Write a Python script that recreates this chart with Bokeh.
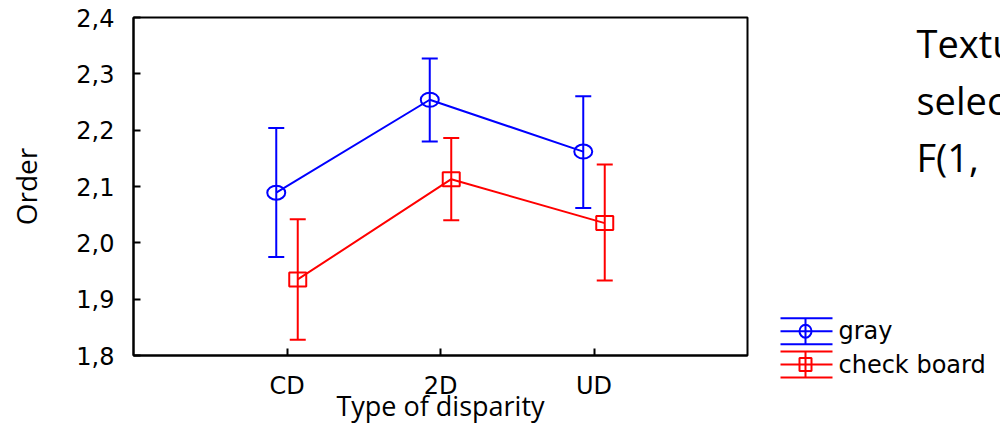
from bokeh.plotting import figure
from bokeh.models import (Range1d, FactorRange, FixedTicker, CustomJSTickFormatter,
                          Whisker, TeeHead, ColumnDataSource)
from bokeh.transform import dodge
from bokeh.layouts import row, column
from bokeh.core.properties import value
from bokeh.embed import file_html
from bokeh.resources import INLINE

# ---- data ----
categories = ["CD", "2D", "UD"]
gray_mean = [2.089, 2.254, 2.162]
gray_upper = [2.204, 2.327, 2.260]
gray_lower = [1.975, 2.180, 2.062]
check_mean = [1.935, 2.113, 2.035]
check_upper = [2.042, 2.186, 2.139]
check_lower = [1.828, 2.040, 1.933]
series_names = ["gray", "check board"]
y_ticks = [1.8, 1.9, 2.0, 2.1, 2.2, 2.3, 2.4]
side_text = ["Textu", "selec", "F(1,"]

BLUE = "#0000FF"
RED = "#FF0000"
TICK_FONT = "DejaVu Sans"
TITLE_FONT = "Open Sans"

W, H = 1000, 426
MAIN_W = 770
TOP, BOTTOM = 17, 355

p = figure(width=MAIN_W, height=H, output_backend="svg", toolbar_location=None,
           x_range=FactorRange(*categories, range_padding=0.5, range_padding_units="absolute"),
           y_range=Range1d(1.8, 2.4),
           min_border_left=133, min_border_right=23, min_border_top=TOP,
           min_border_bottom=H - BOTTOM)
p.xgrid.visible = False
p.ygrid.visible = False
p.outline_line_color = "black"
p.outline_line_width = 2
p.background_fill_color = "white"
p.border_fill_color = "white"

OFF = 0.07
specs = [
    (series_names[0], gray_mean, gray_upper, gray_lower, BLUE, -OFF, "ellipse"),
    (series_names[1], check_mean, check_upper, check_lower, RED, OFF, "rect"),
]
for name, m, u, l, col, off, mk in specs:
    src = ColumnDataSource(dict(x=categories, y=m, upper=u, lower=l))
    xd = dodge("x", off, range=p.x_range)
    p.line(x=xd, y="y", source=src, line_color=col, line_width=2)
    w = Whisker(base=xd, upper="upper", lower="lower", source=src,
                line_color=col, line_width=2,
                upper_head=TeeHead(size=16, line_color=col, line_width=2),
                lower_head=TeeHead(size=16, line_color=col, line_width=2))
    p.add_layout(w)
    if mk == "ellipse":
        p.ellipse(x=xd, y="y", width=18, height=14, width_units="screen", height_units="screen",
                  source=src, fill_color=None, line_color=col, line_width=2)
    else:
        p.rect(x=xd, y="y", width=17, height=14, width_units="screen", height_units="screen",
               source=src, fill_color=None, line_color=col, line_width=2)

for ax in (p.xaxis[0], p.yaxis[0]):
    ax.axis_line_width = 2
    ax.axis_line_color = "black"
    ax.major_tick_in = 7
    ax.major_tick_out = 0
    ax.major_tick_line_width = 2
    ax.minor_tick_line_color = None
    ax.major_label_text_font = TICK_FONT
    ax.major_label_text_font_size = "24px"
    ax.major_label_text_color = "black"
    ax.axis_label_text_font = TITLE_FONT
    ax.axis_label_text_font_style = "normal"
    ax.axis_label_text_color = "black"

p.yaxis.ticker = FixedTicker(ticks=y_ticks)
p.yaxis.formatter = CustomJSTickFormatter(code="return tick.toFixed(1).replace('.', ',');")
p.yaxis.major_label_standoff = 19
p.yaxis.axis_label = "Order"
p.yaxis.axis_label_text_font_size = "28px"
p.yaxis.axis_label_standoff = 28

p.xaxis.major_label_standoff = 16
p.xaxis.axis_label = "Type of disparity"
p.xaxis.axis_label_text_font_size = "27px"
p.xaxis.axis_label_standoff = -16

# ---- side panel: text and legend (coordinates = page pixels) ----
SW = W - MAIN_W
s = figure(width=SW, height=H, output_backend="svg", toolbar_location=None,
           x_range=Range1d(0, SW), y_range=Range1d(H, 0),
           min_border=0, x_axis_location=None, y_axis_location=None, title=None)
s.xgrid.visible = False
s.ygrid.visible = False
s.outline_line_color = None
s.border_fill_color = "white"
s.background_fill_color = "white"

s.text(x=[146, 146, 146], y=[42, 99, 156], text=side_text,
       text_font=value(TITLE_FONT), text_font_size="38px", text_color="black",
       text_baseline="middle")

leg = [(series_names[0], BLUE, 330.7, "ellipse"), (series_names[1], RED, 364.0, "rect")]
for name, col, yc, mk in leg:
    s.segment(x0=[10, 10, 10, 35], y0=[yc - 13, yc, yc + 13, yc - 13],
              x1=[62, 62, 62, 35], y1=[yc - 13, yc, yc + 13, yc + 13],
              line_color=col, line_width=2)
    if mk == "ellipse":
        s.ellipse(x=[35], y=[yc], width=[12], height=[13], fill_color=None,
                  line_color=col, line_width=2)
    else:
        s.rect(x=[35], y=[yc], width=[12], height=[13], fill_color=None,
               line_color=col, line_width=2)
    s.text(x=[68], y=[yc], text=[name], text_font=value(TICK_FONT),
           text_font_size="24px", text_color="black", text_baseline="middle")

layout = row(p, column(s))
open("out.html", "w").write(file_html(layout, INLINE))
